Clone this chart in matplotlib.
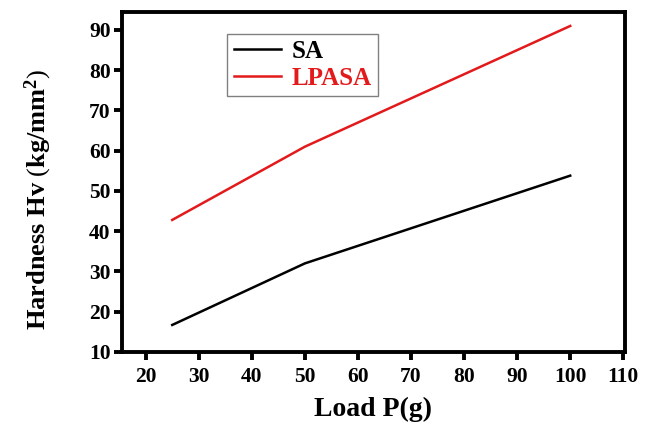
import matplotlib
matplotlib.use("Agg")
import matplotlib.pyplot as plt

load = [25, 50, 100]
sa = [16.7, 32.0, 53.8]
lpasa = [42.8, 61.0, 91.0]
xticks = [20, 30, 40, 50, 60, 70, 80, 90, 100, 110]
yticks = [10, 20, 30, 40, 50, 60, 70, 80, 90]

plt.rcParams['font.family'] = ['Liberation Serif', 'DejaVu Serif']
plt.rcParams['mathtext.fontset'] = 'custom'
plt.rcParams['mathtext.rm'] = 'Liberation Serif'
plt.rcParams['mathtext.bf'] = 'Liberation Serif:bold'

fig = plt.figure(figsize=(6.55, 4.24), dpi=100)
ax = fig.add_axes([0.186, 0.170, 0.768, 0.802])

ax.plot(load, sa, color='black', lw=1.8, label='SA')
ax.plot(load, lpasa, color='#e31a1c', lw=1.8, label='LPASA')

ax.set_xlim(15.5, 110.3)
ax.set_ylim(10, 94.5)
ax.set_xticks(xticks)
ax.set_yticks(yticks)
for s in ax.spines.values():
    s.set_linewidth(2.8)
ax.tick_params(direction='out', length=6, width=2.8, labelsize=15.5)
ax.tick_params(axis='x', pad=5)
ax.tick_params(axis='y', pad=2)
for lab in ax.get_xticklabels() + ax.get_yticklabels():
    lab.set_fontweight('bold')

ax.set_xlabel('Load P(g)', fontsize=20, fontweight='bold', labelpad=7)
ax.set_ylabel(r'Hardness Hv $\mathrm{(}\mathbf{kg/mm^2}\mathrm{)}$', fontsize=19, fontweight='bold')
ax.yaxis.set_label_coords(-0.135, 0.45)

leg = ax.legend(loc='upper left', bbox_to_anchor=(0.21, 0.935),
                prop={'weight': 'bold', 'size': 18}, fancybox=False,
                edgecolor='gray', framealpha=1, handlelength=1.9,
                borderpad=0.25, labelspacing=0.15, handletextpad=0.4,
                borderaxespad=0)
leg.get_frame().set_linewidth(1.0)
for t, c in zip(leg.get_texts(), ['black', '#e31a1c']):
    t.set_color(c)

fig.savefig('out.png', dpi=100)
